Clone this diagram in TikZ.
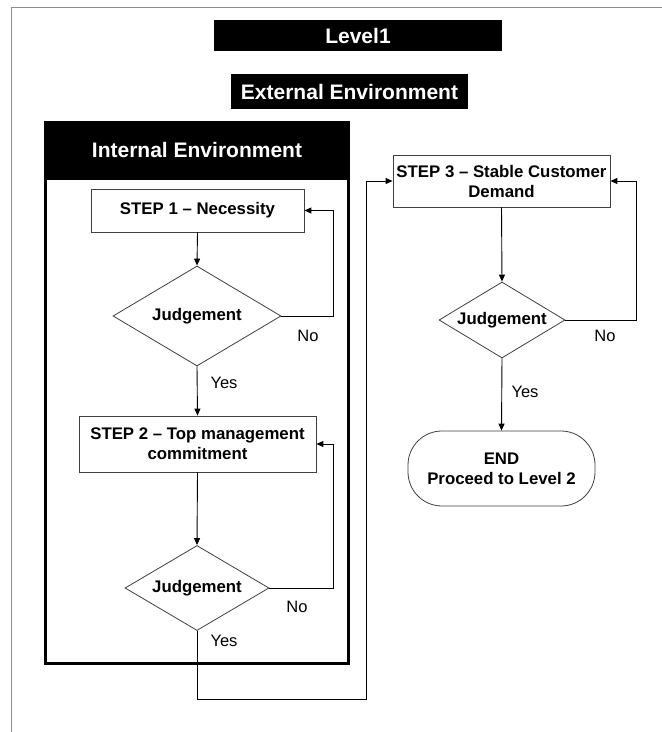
\documentclass[tikz,border=0pt]{standalone}
\usepackage{fontspec}
\setmainfont{Liberation Sans}
\usetikzlibrary{shapes.geometric,arrows.meta}
\tikzset{
  hdr/.style={fill=black,text=white,font=\fontsize{21}{24}\selectfont\bfseries,inner sep=0pt},
  stepbox/.style={draw=black!75,line width=0.8pt,fill=white,align=center,inner sep=0pt,font=\fontsize{16.8}{20}\selectfont\bfseries},
  judge/.style={diamond,draw=black!75,line width=0.8pt,fill=white,inner sep=0pt,aspect=1.6,font=\fontsize{16.8}{20}\selectfont\bfseries},
  conn/.style={line width=0.9pt,draw=black,-{Triangle[length=7pt,width=6pt]}},
  lbl/.style={font=\fontsize{16.5}{19}\selectfont,inner sep=0pt}
}
\begin{document}
\begin{tikzpicture}[x=1pt,y=-1pt]
\useasboundingbox (0,0) rectangle (662,732);
\fill[white] (0,0) rectangle (662,732);
% outer frame (partially visible)
\draw[black!45,line width=0.8pt] (11,732) -- (11,7) -- (662,7);
% headers
\node[hdr,minimum width=288pt,minimum height=31pt] (lvl) at (358,35.5) {Level1};
\node[hdr,minimum width=237pt,minimum height=35pt] (ext) at (349.5,91.5) {External Environment};
% internal environment box
\draw[line width=3pt,black] (45.5,122.5) rectangle (348.5,663.5);
\fill[black] (44,121) rectangle (350,180);
\node[text=white,font=\fontsize{21}{24}\selectfont\bfseries,inner sep=0pt] (intl) at (197,150) {Internal Environment};
% nodes
\node[stepbox,minimum width=213pt,minimum height=43pt] (s1) at (197.5,210.5) {STEP 1 -- Necessity};
\node[judge,minimum width=168pt,minimum height=100pt] (d1) at (197,316) {Judgement};
\node[stepbox,minimum width=237pt,minimum height=56pt] (s2) at (197.5,444) {STEP 2 -- Top management\\commitment};
\node[judge,minimum width=144pt,minimum height=85pt] (d2) at (197,588) {Judgement};
\node[stepbox,minimum width=217pt,minimum height=52pt] (s3) at (501.5,181) {STEP 3 -- Stable Customer\\Demand};
\node[judge,minimum width=126pt,minimum height=76pt] (d3) at (502,320) {Judgement};
\node[stepbox,rounded corners=34pt,minimum width=187pt,minimum height=75pt] (end) at (501.5,468.5) {END\\Proceed to Level 2};
% coordinates
\coordinate (n1) at (333,316);
\coordinate (n1t) at (333,210.5);
\coordinate (n2) at (333,588);
\coordinate (n2t) at (333,444);
\coordinate (y2a) at (197,699);
\coordinate (y2b) at (366,699);
\coordinate (y2c) at (366,181);
\coordinate (n3) at (636,320);
\coordinate (n3t) at (636,181);
% connectors
\draw[conn] (s1.south) -- (d1.north);
\draw[conn] (d1.east) -- (n1) -- (n1t) -- (s1.east);
\draw[conn] (d1.south) -- (s2.north);
\draw[conn] (s2.south) -- (d2.north);
\draw[conn] (d2.east) -- (n2) -- (n2t) -- (s2.east);
\draw[conn] (d2.south) -- (y2a) -- (y2b) -- (y2c) -- (s3.west);
\draw[conn] (s3.south) -- (d3.north);
\draw[conn] (d3.east) -- (n3) -- (n3t) -- (s3.east);
\draw[conn] (d3.south) -- (end.north);
% labels
\node[lbl] (no1) at (308,336) {No};
\node[lbl] (yes1) at (224,383) {Yes};
\node[lbl] (no2) at (297,607) {No};
\node[lbl] (yes2) at (224,641) {Yes};
\node[lbl] (no3) at (605,336) {No};
\node[lbl] (yes3) at (525,392) {Yes};
\end{tikzpicture}
\end{document}
